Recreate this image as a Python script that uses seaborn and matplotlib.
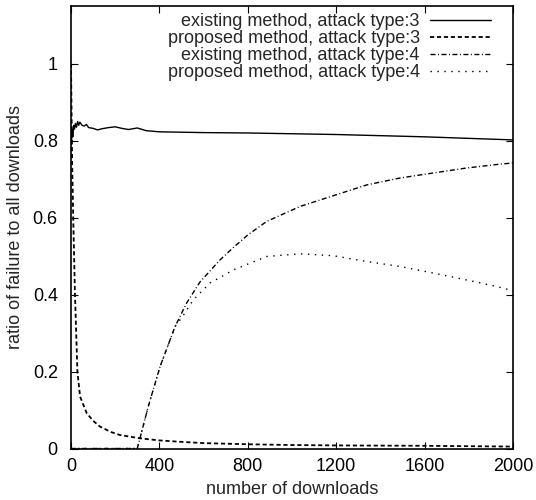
import numpy as np
import pandas as pd
import seaborn as sns
from matplotlib import pyplot as plt

# values
exist3_x = [0, 2, 5, 8, 12, 16, 20, 25, 30, 35, 40, 50, 60, 70, 80, 100, 120, 140, 170,
            200, 230, 260, 300, 340, 400, 500, 600, 800, 1000, 1200, 1400, 1600, 1800, 2000]
exist3_y = [0.80, 0.79, 0.83, 0.81, 0.84, 0.83, 0.845, 0.835, 0.85, 0.84, 0.848, 0.84, 0.838,
            0.842, 0.834, 0.832, 0.828, 0.831, 0.834, 0.836, 0.832, 0.829, 0.833, 0.826, 0.823,
            0.822, 0.821, 0.820, 0.818, 0.816, 0.813, 0.810, 0.806, 0.802]

prop3_x = [0, 2, 5, 10, 18, 29, 41, 71, 100, 131, 180, 222, 312, 400, 478, 600, 800, 1000,
           1200, 1400, 1600, 1800, 2000]
prop3_y = [1.0, 0.9, 0.75, 0.6, 0.4, 0.2, 0.135, 0.092, 0.072, 0.057, 0.043, 0.035, 0.0265,
           0.021, 0.018, 0.014, 0.011, 0.009, 0.008, 0.0075, 0.007, 0.006, 0.005]

exist4_x = [0, 300, 350, 403, 471, 523, 584, 674, 734, 800, 885, 1036, 1187, 1338, 1489,
            1639, 1790, 1941, 2000]
exist4_y = [0, 0, 0.11, 0.213, 0.317, 0.378, 0.433, 0.49, 0.522, 0.555, 0.59, 0.629, 0.657,
            0.685, 0.703, 0.716, 0.729, 0.739, 0.742]

prop4_x = [0, 300, 350, 403, 471, 507, 552, 584, 629, 734, 855, 885, 1036, 1187, 1338, 1489,
           1639, 1790, 1926, 2000]
prop4_y = [0, 0, 0.11, 0.213, 0.317, 0.345, 0.385, 0.404, 0.43, 0.464, 0.492, 0.499, 0.506,
           0.501, 0.486, 0.473, 0.456, 0.438, 0.421, 0.41]

labels = ["existing method, attack type:3", "proposed method, attack type:3",
          "existing method, attack type:4", "proposed method, attack type:4"]

sns.set_style("ticks")
plt.rcParams['font.family'] = ['Liberation Sans', 'DejaVu Sans']
plt.rcParams['lines.scale_dashes'] = False
fs = 13

fig = plt.figure(figsize=(5.36, 5.0), dpi=100)
ax = fig.add_axes([71 / 536, 1 - 448.5 / 500, 442 / 536, 442.5 / 500])

series = [(exist3_x, exist3_y, '-', 1.0),
          (prop3_x, prop3_y, (0, (3, 2)), 1.3),
          (exist4_x, exist4_y, (0, (3.6, 1.8, 0.7, 1.8)), 1.0),
          (prop4_x, prop4_y, (0, (1, 4)), 1.0)]
for (xs, ys, ls, lw), lab in zip(series, labels):
    df = pd.DataFrame({"x": xs, "y": ys})
    sns.lineplot(data=df, x="x", y="y", color="black", linestyle=ls, linewidth=lw,
                 label=lab, ax=ax, estimator=None, sort=False)

ax.set_xlim(0, 2000)
ax.set_ylim(0, 1.15)
ax.set_xticks(np.arange(0, 2001, 400))
ax.set_yticks([0, 0.2, 0.4, 0.6, 0.8, 1])
ax.set_yticklabels(["0", "0.2", "0.4", "0.6", "0.8", "1"])
ax.tick_params(direction="in", length=5, width=0.8, top=True, right=True,
               labelsize=fs, colors="black")
ax.tick_params(axis="y", pad=9.5)
ax.tick_params(axis="x", pad=7)
for s in ax.spines.values():
    s.set_linewidth(1.2)
    s.set_color("black")
ax.set_xlabel("number of downloads", fontsize=fs, labelpad=4)
ax.set_ylabel("ratio of failure to all downloads", fontsize=fs, labelpad=6)

leg = ax.legend(loc="upper right", bbox_to_anchor=((491 - 71) / 442, 0.984),
                frameon=False, markerfirst=False, fontsize=fs, handlelength=3.4,
                handletextpad=0.55, labelspacing=0.0, borderpad=0, borderaxespad=0)

fig.savefig("out.png", dpi=100)
